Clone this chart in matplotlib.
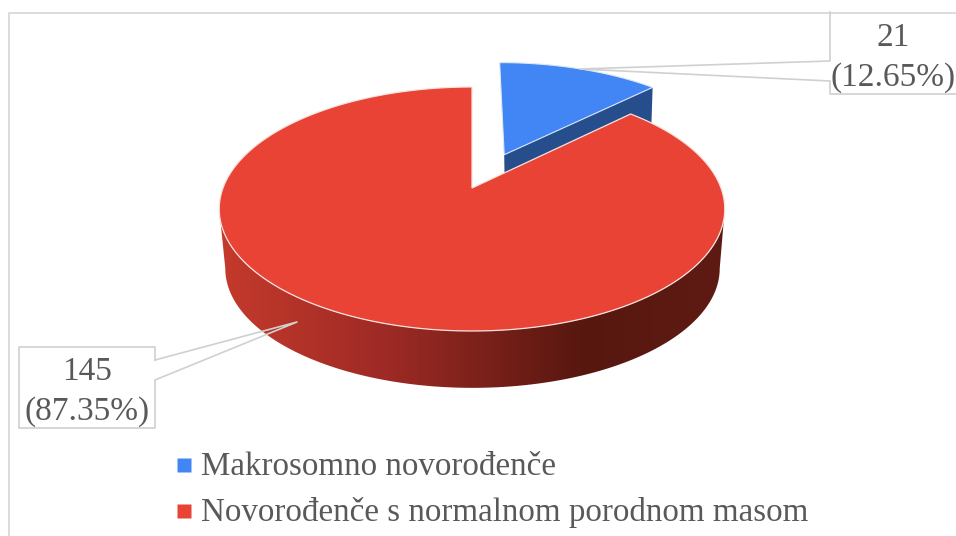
import numpy as np
import matplotlib
matplotlib.use('Agg')
import matplotlib.pyplot as plt
from matplotlib.colors import LinearSegmentedColormap
from matplotlib.patches import Polygon

categories = ['Makrosomno novorođenče', 'Novorođenče s normalnom porodnom masom']
counts = [21, 145]
percent_labels = ['12.65%', '87.35%']
colors = ['#4285F4', '#E94335']

# pie projection
cx, cy = 472, 188
rx, ry, persp = 249, 118.4, 0.172
explode = 0.32
drop_x, drop_y, bottom_scale = 0.5, 60, 0.978
grey = '#595959'
line_grey = '#d0d0d0'

plt.rcParams['font.family'] = ['Liberation Serif', 'DejaVu Serif']


def project(u, v, ox=cx, oy=cy):
    w = 1 + persp * v
    return np.column_stack([ox + rx * u / w, oy - ry * v / w])


def ring(t0, t1, du=0.0, dv=0.0, n=300):
    t = np.linspace(t0, t1, n)
    return project(np.sin(t) + du, np.cos(t) + dv)


def lower(pts):
    # same points on the lower face of the disc
    return np.column_stack([cx + drop_x + (pts[:, 0] - cx) * bottom_scale,
                            cy + drop_y + (pts[:, 1] - cy) * bottom_scale])


fig = plt.figure(figsize=(9.56, 5.36), dpi=100)
ax = fig.add_axes([0, 0, 1, 1])
ax.set_xlim(0, 956)
ax.set_ylim(536, 0)
ax.axis('off')

# chart frame
ax.plot([9, 9, 956], [536, 12.5, 12.5], color='#d9d9d9', lw=1.3, zorder=1)

split = 2 * np.pi * counts[0] / sum(counts)
mid = split / 2
du, dv = explode * np.sin(mid) + 0.012, explode * np.cos(mid)

# exploded slice, its cut wall is mostly hidden by the big slice
blue_apex = project(np.array([du]), np.array([dv]))
blue_ring = ring(0, split, du, dv)
corner = blue_ring[-1]
wall = np.array([blue_apex[0], corner, corner + [-2, drop_y], blue_apex[0] + [1, drop_y]])
ax.add_patch(Polygon(wall, closed=True, fc='#264D8C', ec='none', zorder=2))
ax.add_patch(Polygon(np.vstack([blue_apex, blue_ring]), closed=True, fc=colors[0],
                     ec='#dbe6f7', lw=0.8, zorder=3))

# red side wall with left to right shading
front = ring(np.pi / 2 + np.arcsin(persp), 3 * np.pi / 2 - np.arcsin(persp))
side = np.vstack([front, lower(front)[::-1]])
shade = LinearSegmentedColormap.from_list('side', [(0, '#5E1B14'), (0.28, '#57170F'),
                                                   (0.67, '#9E2A25'), (1, '#C53A2C')])
img = ax.imshow(np.linspace(0, 1, 512).reshape(1, -1), cmap=shade, aspect='auto',
                extent=[side[:, 0].max(), side[:, 0].min(), side[:, 1].max(), side[:, 1].min()],
                zorder=4)
ax.set_xlim(0, 956)
ax.set_ylim(536, 0)
img.set_clip_path(Polygon(side, closed=True, transform=ax.transData))

# red top face
red_ring = ring(split, 2 * np.pi)
ax.add_patch(Polygon(np.vstack([[[cx, cy]], red_ring]), closed=True, fc=colors[1],
                     ec='#f6e4e0', lw=0.9, zorder=5))

# callouts
ax.plot([956, 830, 830, 580, 830, 830], [94, 94, 81, 69, 61, 12], color=line_grey, lw=1.2, zorder=6)
ax.plot([155, 155, 19, 19, 155, 155, 297, 155, 155],
        [360, 347, 347, 428, 428, 380, 322, 360, 360], color=line_grey, lw=1.2, zorder=6)

label_pos = [(893.5, 38, 78), (87, 372, 412)]
for n, pct, (x, y1, y2) in zip(counts, percent_labels, label_pos):
    ax.text(x, y1, str(n), fontsize=24, color=grey, ha='center', va='center', zorder=7)
    ax.text(x, y2, '(%s)' % pct, fontsize=24, color=grey, ha='center', va='center', zorder=7)

# legend
for name, col, y in zip(categories, colors, [465, 511]):
    ax.plot([184.5], [y], marker='s', ms=9.5, mfc=col, mec='none', zorder=7)
    ax.text(201, y + 2, name, fontsize=23.8, color=grey, ha='left', va='center', zorder=7)

fig.savefig('out.png', dpi=100)
